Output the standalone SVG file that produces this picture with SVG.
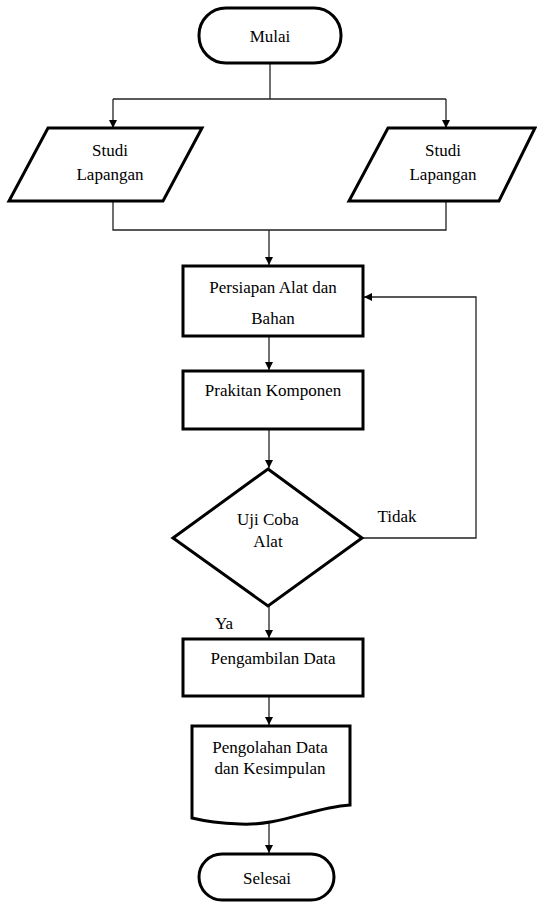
<svg xmlns="http://www.w3.org/2000/svg" width="537" height="904" viewBox="0 0 537 904">
<style>
.n{fill:#fff;stroke:#000;stroke-width:3}
.c{fill:none;stroke:#222;stroke-width:1.3}
.t{font-size:17px;fill:#000;text-anchor:middle}
</style>
<defs>
<marker id="ah" viewBox="0 0 10 10" refX="10" refY="5" markerWidth="8" markerHeight="8" markerUnits="userSpaceOnUse" orient="auto">
<path d="M0,0 L10,5 L0,10 z" fill="#000"/>
</marker>
</defs>
<rect width="537" height="904" fill="#fff"/>
<g id="connectors">
<path class="c" d="M270,63 V99"/>
<path class="c" d="M113,99 H446"/>
<path class="c" d="M113,99 V128" marker-end="url(#ah)"/>
<path class="c" d="M446,99 V128" marker-end="url(#ah)"/>
<path class="c" d="M113,201 V230 H446 V201"/>
<path class="c" d="M269,230 V265" marker-end="url(#ah)"/>
<path class="c" d="M269,336 V370" marker-end="url(#ah)"/>
<path class="c" d="M269,429 V468" marker-end="url(#ah)"/>
<path class="c" d="M362,538 H476 V297 H364" marker-end="url(#ah)"/>
<path class="c" d="M269,606 V638" marker-end="url(#ah)"/>
<path class="c" d="M269,696 V725" marker-end="url(#ah)"/>
<path class="c" d="M269,822 V853" marker-end="url(#ah)"/>
</g>
<g font-family="'Liberation Serif', 'DejaVu Serif', serif">
<g id="mulai">
<rect class="n" x="199" y="8" width="142" height="55" rx="27" ry="27"/>
<text class="t" x="270" y="42">Mulai</text>
</g>
<g id="studi-kiri">
<polygon class="n" points="48,128 202,128 163,201 9,201"/>
<text class="t" x="110" y="156">Studi</text>
<text class="t" x="110" y="180">Lapangan</text>
</g>
<g id="studi-kanan">
<polygon class="n" points="388,128 535,128 499,201 349,201"/>
<text class="t" x="443" y="156">Studi</text>
<text class="t" x="443" y="180">Lapangan</text>
</g>
<g id="persiapan">
<rect class="n" x="183" y="266" width="180" height="70"/>
<text class="t" x="273" y="293">Persiapan Alat dan</text>
<text class="t" x="273" y="324">Bahan</text>
</g>
<g id="prakitan">
<rect class="n" x="183" y="371" width="180" height="58"/>
<text class="t" x="273" y="396">Prakitan Komponen</text>
</g>
<g id="uji">
<polygon class="n" points="268,469 362,538 268,606 173,538"/>
<text class="t" x="268" y="525">Uji Coba</text>
<text class="t" x="268" y="547">Alat</text>
</g>
<text class="t" x="397" y="522">Tidak</text>
<text class="t" x="224" y="629">Ya</text>
<g id="pengambilan">
<rect class="n" x="183" y="639" width="180" height="57"/>
<text class="t" x="273" y="664">Pengambilan Data</text>
</g>
<g id="pengolahan">
<path class="n" d="M192,726 H350 V805 C310,808 280,826 240,824 C215,823 200,820 192,818 Z"/>
<text class="t" x="270" y="753">Pengolahan Data</text>
<text class="t" x="270" y="774">dan Kesimpulan</text>
</g>
<g id="selesai">
<rect class="n" x="199" y="854" width="135" height="46" rx="23" ry="23"/>
<text class="t" x="267" y="884">Selesai</text>
</g>
</g>
</svg>
